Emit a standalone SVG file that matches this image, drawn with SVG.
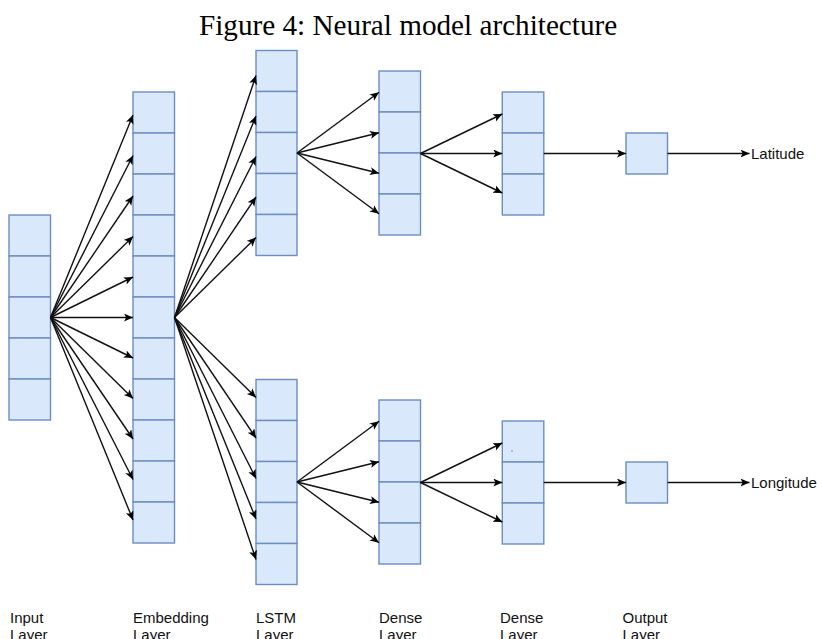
<svg xmlns="http://www.w3.org/2000/svg" width="817" height="639" viewBox="0 0 817 639">
<style>
.cell{fill:#dae8fc;stroke:#6c8ebf;stroke-width:1.4}
.conn line{stroke:#111;stroke-width:1.4;marker-end:url(#ah)}
.lbl{font-family:"Liberation Sans",Arial,sans-serif;font-size:15px;fill:#111}
.title{font-family:"Liberation Serif","Times New Roman",serif;font-size:29.2px;fill:#000}
</style>
<defs>
<marker id="ah" markerUnits="userSpaceOnUse" markerWidth="10" markerHeight="9" refX="9" refY="4" orient="auto">
<path d="M0,0 L9,4 L0,8 L2.2,4 z" fill="#000"/>
</marker>
</defs>
<rect width="817" height="639" fill="#fff"/>
<text class="title" x="199" y="35">Figure 4: Neural model architecture</text>

<g id="input-layer">
<rect class="cell" x="9" y="215" width="41.5" height="41"/>
<rect class="cell" x="9" y="256" width="41.5" height="41"/>
<rect class="cell" x="9" y="297" width="41.5" height="41"/>
<rect class="cell" x="9" y="338" width="41.5" height="41"/>
<rect class="cell" x="9" y="379" width="41.5" height="41"/>
</g>
<g id="embedding-layer">
<rect class="cell" x="133" y="92" width="41.5" height="41"/>
<rect class="cell" x="133" y="133" width="41.5" height="41"/>
<rect class="cell" x="133" y="174" width="41.5" height="41"/>
<rect class="cell" x="133" y="215" width="41.5" height="41"/>
<rect class="cell" x="133" y="256" width="41.5" height="41"/>
<rect class="cell" x="133" y="297" width="41.5" height="41"/>
<rect class="cell" x="133" y="338" width="41.5" height="41"/>
<rect class="cell" x="133" y="379" width="41.5" height="41"/>
<rect class="cell" x="133" y="420" width="41.5" height="41"/>
<rect class="cell" x="133" y="461" width="41.5" height="41"/>
<rect class="cell" x="133" y="502" width="41.5" height="41"/>
</g>
<g id="lstm-top">
<rect class="cell" x="256" y="50.5" width="41" height="41"/>
<rect class="cell" x="256" y="91.5" width="41" height="41"/>
<rect class="cell" x="256" y="132.5" width="41" height="41"/>
<rect class="cell" x="256" y="173.5" width="41" height="41"/>
<rect class="cell" x="256" y="214.5" width="41" height="41"/>
</g>
<g id="lstm-bottom">
<rect class="cell" x="256" y="379.5" width="41" height="41"/>
<rect class="cell" x="256" y="420.5" width="41" height="41"/>
<rect class="cell" x="256" y="461.5" width="41" height="41"/>
<rect class="cell" x="256" y="502.5" width="41" height="41"/>
<rect class="cell" x="256" y="543.5" width="41" height="41"/>
</g>
<g id="dense1-top">
<rect class="cell" x="379" y="71" width="41.5" height="41"/>
<rect class="cell" x="379" y="112" width="41.5" height="41"/>
<rect class="cell" x="379" y="153" width="41.5" height="41"/>
<rect class="cell" x="379" y="194" width="41.5" height="41"/>
</g>
<g id="dense1-bottom">
<rect class="cell" x="379" y="400" width="41.5" height="41"/>
<rect class="cell" x="379" y="441" width="41.5" height="41"/>
<rect class="cell" x="379" y="482" width="41.5" height="41"/>
<rect class="cell" x="379" y="523" width="41.5" height="41"/>
</g>
<g id="dense2-top">
<rect class="cell" x="502.3" y="92" width="41.5" height="41"/>
<rect class="cell" x="502.3" y="133" width="41.5" height="41"/>
<rect class="cell" x="502.3" y="174" width="41.5" height="41"/>
</g>
<g id="dense2-bottom">
<rect class="cell" x="502.3" y="421" width="41.5" height="41"/>
<rect class="cell" x="502.3" y="462" width="41.5" height="41"/>
<rect class="cell" x="502.3" y="503" width="41.5" height="41"/>
<rect x="511" y="450.5" width="2" height="1" fill="#6c8ebf"/>
</g>
<g id="output-top">
<rect class="cell" x="626" y="133" width="41.5" height="41"/>
</g>
<g id="output-bottom">
<rect class="cell" x="626" y="462" width="41.5" height="41"/>
</g>

<g id="connectors" class="conn">
<line x1="50.5" y1="317.5" x2="133" y2="115"/>
<line x1="50.5" y1="317.5" x2="133" y2="155.5"/>
<line x1="50.5" y1="317.5" x2="133" y2="196"/>
<line x1="50.5" y1="317.5" x2="133" y2="236.5"/>
<line x1="50.5" y1="317.5" x2="133" y2="277"/>
<line x1="50.5" y1="317.5" x2="133" y2="317.5"/>
<line x1="50.5" y1="317.5" x2="133" y2="358"/>
<line x1="50.5" y1="317.5" x2="133" y2="398.5"/>
<line x1="50.5" y1="317.5" x2="133" y2="439"/>
<line x1="50.5" y1="317.5" x2="133" y2="479.5"/>
<line x1="50.5" y1="317.5" x2="133" y2="520"/>

<line x1="174.5" y1="317.5" x2="256" y2="75.5"/>
<line x1="174.5" y1="317.5" x2="256" y2="116"/>
<line x1="174.5" y1="317.5" x2="256" y2="156.5"/>
<line x1="174.5" y1="317.5" x2="256" y2="197"/>
<line x1="174.5" y1="317.5" x2="256" y2="237.5"/>
<line x1="174.5" y1="317.5" x2="256" y2="397.5"/>
<line x1="174.5" y1="317.5" x2="256" y2="438"/>
<line x1="174.5" y1="317.5" x2="256" y2="478.5"/>
<line x1="174.5" y1="317.5" x2="256" y2="519"/>
<line x1="174.5" y1="317.5" x2="256" y2="559.5"/>

<line x1="297" y1="153" x2="379" y2="92.3"/>
<line x1="297" y1="153" x2="379" y2="132.8"/>
<line x1="297" y1="153" x2="379" y2="173.2"/>
<line x1="297" y1="153" x2="379" y2="213.7"/>
<line x1="297" y1="482" x2="379" y2="421.3"/>
<line x1="297" y1="482" x2="379" y2="461.8"/>
<line x1="297" y1="482" x2="379" y2="502.2"/>
<line x1="297" y1="482" x2="379" y2="542.7"/>

<line x1="420.5" y1="153.5" x2="502.3" y2="114"/>
<line x1="420.5" y1="153.5" x2="502.3" y2="153.5"/>
<line x1="420.5" y1="153.5" x2="502.3" y2="193"/>
<line x1="420.5" y1="482.5" x2="502.3" y2="443"/>
<line x1="420.5" y1="482.5" x2="502.3" y2="482.5"/>
<line x1="420.5" y1="482.5" x2="502.3" y2="522"/>

<line x1="543.8" y1="153.5" x2="626" y2="153.5"/>
<line x1="543.8" y1="482.5" x2="626" y2="482.5"/>
<line x1="667.5" y1="153.5" x2="749.5" y2="153.5"/>
<line x1="667.5" y1="482.5" x2="749.5" y2="482.5"/>
</g>

<g id="labels">
<text class="lbl" x="751" y="159">Latitude</text>
<text class="lbl" x="751" y="488">Longitude</text>
<text class="lbl" x="10" y="623">Input<tspan x="10" dy="16.5">Layer</tspan></text>
<text class="lbl" x="133" y="623">Embedding<tspan x="133" dy="16.5">Layer</tspan></text>
<text class="lbl" x="256" y="623">LSTM<tspan x="256" dy="16.5">Layer</tspan></text>
<text class="lbl" x="379" y="623">Dense<tspan x="379" dy="16.5">Layer</tspan></text>
<text class="lbl" x="500" y="623">Dense<tspan x="500" dy="16.5">Layer</tspan></text>
<text class="lbl" x="622.5" y="623">Output<tspan x="622.5" dy="16.5">Layer</tspan></text>
</g>
</svg>
